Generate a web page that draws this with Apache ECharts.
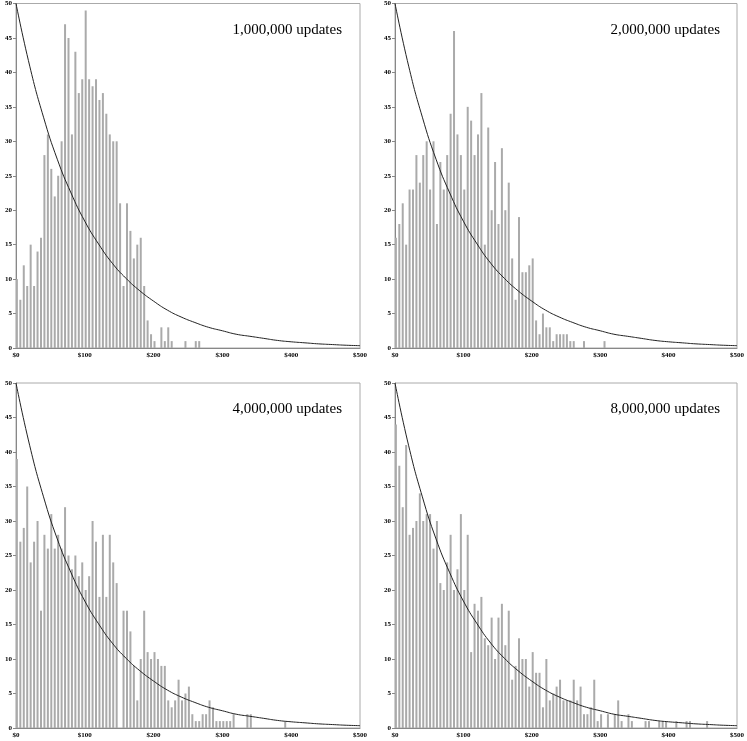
<!DOCTYPE html>
<html>
<head>
<meta charset="utf-8">
<script src="https://cdn.jsdelivr.net/npm/echarts@6/dist/echarts.min.js"></script>
<style>
  html, body { margin: 0; padding: 0; background: #fff; }
  #chart { width: 747px; height: 741px; }
</style>
</head>
<body>
<div id="chart"></div>
<script>
// Histogram counts per $5 bin, starting at $0
const counts1m = [10, 7, 12, 9, 15, 9, 14, 16, 28, 31, 26, 22, 25, 30, 47, 45, 31, 43, 37, 39,
  49, 39, 38, 39, 36, 37, 34, 31, 30, 30, 21, 9, 21, 17, 13, 15, 16, 9, 4, 2,
  1, 0, 3, 1, 3, 1, 0, 0, 0, 1, 0, 0, 1, 1]
const counts2m = [16, 18, 21, 15, 23, 23, 28, 24, 28, 30, 23, 30, 18, 27, 23, 28, 34, 46, 31, 28,
  23, 35, 33, 28, 31, 37, 15, 32, 20, 27, 18, 29, 20, 24, 13, 7, 19, 11, 11, 12,
  13, 4, 2, 5, 3, 3, 1, 2, 2, 2, 2, 1, 1, 0, 0, 1, 0, 0, 0, 0, 0, 1]
const counts4m = [39, 27, 29, 35, 24, 27, 30, 17, 28, 26, 31, 26, 28, 26, 32, 25, 23, 25, 22, 24,
  20, 22, 30, 27, 19, 28, 19, 28, 24, 21, 0, 17, 17, 14, 9, 4, 10, 17, 11, 10,
  11, 10, 9, 9, 4, 3, 4, 7, 4, 5, 6, 2, 1, 1, 2, 2, 4, 3, 1, 1,
  1, 1, 1, 2, 0, 0, 0, 2, 2, 0, 0, 0, 0, 0, 0, 0, 0, 0, 1]
const counts8m = [44, 38, 32, 41, 28, 29, 30, 34, 30, 31, 31, 26, 30, 21, 20, 24, 28, 20, 23, 31,
  20, 28, 11, 18, 17, 19, 13, 12, 16, 10, 16, 18, 12, 17, 7, 9, 13, 10, 10, 6,
  11, 8, 8, 3, 10, 4, 5, 6, 7, 4, 4, 4, 7, 4, 6, 2, 2, 3, 7, 1,
  2, 0, 2, 0, 2, 4, 1, 0, 2, 1, 0, 0, 0, 1, 1, 0, 0, 1, 1, 1,
  0, 0, 1, 0, 0, 1, 1, 0, 0, 0, 0, 1]

// Reference curve, read every $20
const curveX = [0, 20, 40, 60, 80, 100, 120, 140, 160, 180, 200, 220, 240, 260, 280, 300,
  320, 340, 360, 380, 400, 420, 440, 460, 480, 500]
const curveY = [50, 40.9, 33.5, 27.4, 22.5, 18.4, 15.1, 12.3, 10.1, 8.3, 6.8, 5.5, 4.5, 3.7, 3.0, 2.5,
  2.0, 1.7, 1.4, 1.1, 0.9, 0.75, 0.6, 0.5, 0.4, 0.34]

const panelTitles = ['1,000,000 updates', '2,000,000 updates', '4,000,000 updates', '8,000,000 updates']
const xTicks = [0, 100, 200, 300, 400, 500]
const binWidth = 5

const panels = [counts1m, counts2m, counts4m, counts8m]
const layout = [
  { left: 16, top: 3, titleRight: 400, titleTop: 18 },
  { left: 395, top: 3, titleRight: 22, titleTop: 18 },
  { left: 16, top: 383, titleRight: 400, titleTop: 397 },
  { left: 395, top: 383, titleRight: 22, titleTop: 397 }
]

const labelFont = { fontFamily: 'Liberation Serif', fontWeight: 'bold', fontSize: 7, color: '#000' }

const grids = [], xAxes = [], yAxes = [], series = [], titles = []
panels.forEach((counts, i) => {
  const l = layout[i]
  grids.push({ left: l.left, top: l.top, width: 344, height: 345, show: true, borderColor: '#aaa', borderWidth: 1 })
  xAxes.push({
    gridIndex: i, type: 'value', min: 0, max: 500, interval: 100,
    axisLine: { show: true, lineStyle: { color: '#888' } },
    axisTick: { show: false },
    splitLine: { show: false },
    axisLabel: Object.assign({ margin: 4, formatter: v => xTicks.includes(v) ? '$' + v : '' }, labelFont)
  })
  yAxes.push({
    gridIndex: i, type: 'value', min: 0, max: 50, interval: 5,
    axisLine: { show: true, lineStyle: { color: '#888' } },
    axisTick: { show: true, length: 3, lineStyle: { color: '#888' } },
    splitLine: { show: false },
    axisLabel: Object.assign({ margin: 4 }, labelFont)
  })
  series.push({
    type: 'bar', xAxisIndex: i, yAxisIndex: i,
    barWidth: 2,
    itemStyle: { color: '#aaa' },
    silent: true,
    data: counts.map((v, k) => [k * binWidth + 1.3, v])
  })
  series.push({
    type: 'line', xAxisIndex: i, yAxisIndex: i,
    smooth: true, symbol: 'none', silent: true,
    lineStyle: { color: '#222', width: 1 },
    data: curveX.map((x, k) => [x, curveY[k]])
  })
  titles.push({
    text: panelTitles[i], right: l.titleRight, top: l.titleTop,
    textStyle: { fontFamily: 'Liberation Serif', fontWeight: 'normal', fontSize: 15, color: '#000' }
  })
})

const chart = echarts.init(document.getElementById('chart'), null, { renderer: 'canvas' })
chart.setOption({
  animation: false,
  title: titles,
  grid: grids,
  xAxis: xAxes,
  yAxis: yAxes,
  series: series
})
</script>
</body>
</html>
